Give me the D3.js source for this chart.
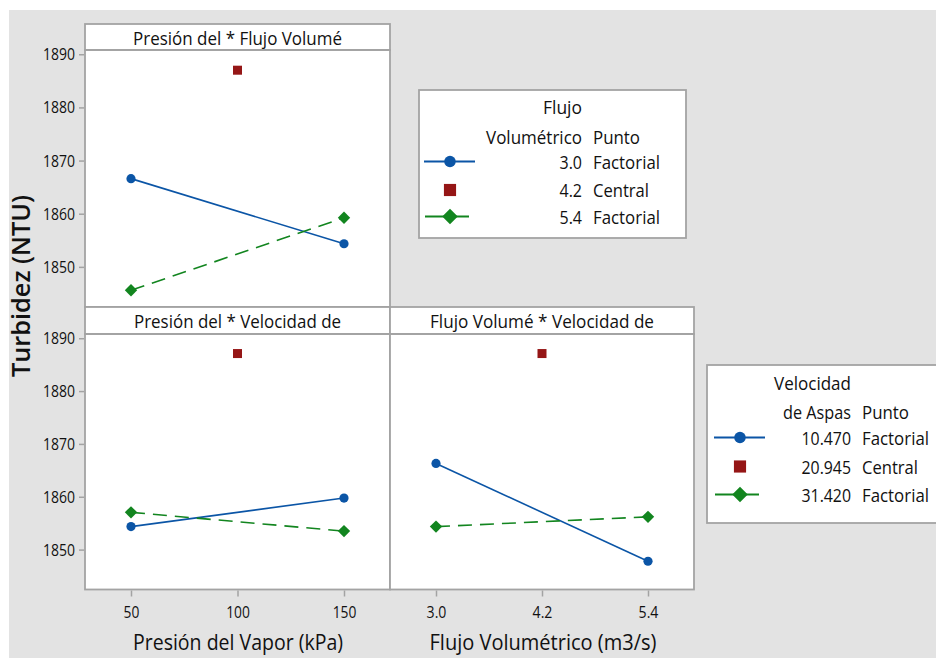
<!DOCTYPE html>
<html>
<head>
<meta charset="utf-8">
<script src="https://cdn.jsdelivr.net/npm/d3@7/dist/d3.min.js"></script>
<style>
  html, body { margin: 0; padding: 0; background: #ffffff; }
  svg { display: block; }
  text { font-family: "Open Sans", "Noto Sans", sans-serif; fill: #111111; }
</style>
</head>
<body>
<svg id="chart" width="936" height="658"></svg>
<script>
// Factor levels and axis ticks
const presionLevels = [50, 100, 150];
const flujoLevels = [3.0, 4.2, 5.4];
const yTicks = [1850, 1860, 1870, 1880, 1890];
const yDomain = [1842.45, 1890.8];

// Interaction means: Presión del Vapor x Flujo Volumétrico
const presFlujoLow = [1866.6, 1854.35];   // Flujo 3.0
const presFlujoHigh = [1845.6, 1859.25];  // Flujo 5.4
const presFlujoCenter = 1887.0;           // Flujo 4.2, punto central

// Presión del Vapor x Velocidad de Aspas
const presVelLow = [1854.35, 1859.75];    // 10.470
const presVelHigh = [1857.05, 1853.5];    // 31.420
const presVelCenter = 1887.1;             // 20.945

// Flujo Volumétrico x Velocidad de Aspas
const flujoVelLow = [1866.3, 1847.8];
const flujoVelHigh = [1854.35, 1856.2];
const flujoVelCenter = 1887.1;

const flujoLegend = [
  { value: "3.0", punto: "Factorial", kind: "low" },
  { value: "4.2", punto: "Central", kind: "center" },
  { value: "5.4", punto: "Factorial", kind: "high" }
];
const velLegend = [
  { value: "10.470", punto: "Factorial", kind: "low" },
  { value: "20.945", punto: "Central", kind: "center" },
  { value: "31.420", punto: "Factorial", kind: "high" }
];

const BLUE = "#0b55a6";
const RED = "#951616";
const GREEN = "#12851f";
const FRAME = "#a3a3a3";
const INK = "#111111";

const svg = d3.select("#chart");

// light gray page area
svg.append("rect").attr("x", 9).attr("y", 10).attr("width", 927).attr("height", 648).attr("fill", "#e3e3e3");

function txt(g, x, y, s, opt) {
  const t = g.append("text").attr("x", x).attr("y", y).text(s)
    .attr("font-size", opt.size || 16)
    .attr("text-anchor", opt.anchor || "start")
    .attr("dominant-baseline", "central");
  if (opt.len) t.attr("textLength", opt.len).attr("lengthAdjust", "spacingAndGlyphs");
  if (opt.weight) t.attr("font-weight", opt.weight);
  return t;
}

// condensed width for numeric labels
function numLen(s, digit, dot) {
  return Array.from(s).reduce((a, c) => a + (c === "." ? dot : digit), 0);
}

function marker(g, kind, x, y, s) {
  if (kind === "low") {
    g.append("circle").attr("cx", x).attr("cy", y).attr("r", 4.6 * s).attr("fill", BLUE);
  } else if (kind === "high") {
    const h = 6.2 * s;
    g.append("path").attr("d", `M${x},${y - h}L${x + h},${y}L${x},${y + h}L${x - h},${y}Z`).attr("fill", GREEN);
  } else {
    const w = 9 * s;
    g.append("rect").attr("x", x - w / 2).attr("y", y - w / 2).attr("width", w).attr("height", w).attr("fill", RED);
  }
}

function panel(cfg) {
  const g = svg.append("g");
  const x = d3.scalePoint().domain(cfg.levels).range([cfg.x0 + 46, cfg.x1 - 46]);
  const y = d3.scaleLinear().domain(yDomain).range([cfg.plotBottom, cfg.plotTop]);

  // plot area and header strip
  g.append("rect").attr("x", cfg.x0).attr("y", cfg.headTop).attr("width", cfg.x1 - cfg.x0)
    .attr("height", cfg.plotBottom - cfg.headTop).attr("fill", "#ffffff");
  g.append("rect").attr("x", cfg.x0).attr("y", cfg.headTop).attr("width", cfg.x1 - cfg.x0)
    .attr("height", cfg.plotTop - cfg.headTop).attr("fill", "#ffffff")
    .attr("stroke", FRAME).attr("stroke-width", 1.8);
  g.append("rect").attr("x", cfg.x0).attr("y", cfg.plotTop).attr("width", cfg.x1 - cfg.x0)
    .attr("height", cfg.plotBottom - cfg.plotTop).attr("fill", "none")
    .attr("stroke", FRAME).attr("stroke-width", 1.8);
  txt(g, (cfg.x0 + cfg.x1) / 2, (cfg.headTop + cfg.plotTop) / 2, cfg.title, { size: 18.5, anchor: "middle", len: cfg.titleLen });

  if (cfg.yAxis) {
    const ay = g.append("g").attr("transform", `translate(${cfg.x0 - 1},0)`)
      .call(d3.axisLeft(y).tickValues(yTicks).tickSize(5).tickPadding(4).tickFormat(d3.format("d")));
    ay.select(".domain").remove();
    ay.selectAll(".tick line").attr("stroke", FRAME).attr("stroke-width", 1.5);
    ay.selectAll(".tick text").attr("font-size", 17).attr("fill", INK)
      .attr("font-family", "'Open Sans', sans-serif")
      .attr("textLength", 32).attr("lengthAdjust", "spacingAndGlyphs");
  }
  if (cfg.xAxis) {
    const ax = g.append("g").attr("transform", `translate(0,${cfg.plotBottom + 1})`)
      .call(d3.axisBottom(x).tickSize(6).tickPadding(9).tickFormat(cfg.fmt));
    ax.select(".domain").remove();
    ax.selectAll(".tick line").attr("stroke", FRAME).attr("stroke-width", 1.5);
    ax.selectAll(".tick text").attr("font-size", 17).attr("fill", INK)
      .attr("font-family", "'Open Sans', sans-serif")
      .attr("textLength", function () { return numLen(this.textContent, 7.9, 4); })
      .attr("lengthAdjust", "spacingAndGlyphs");
  }

  const ends = [cfg.levels[0], cfg.levels[2]];
  const line = d3.line().x((d, i) => x(ends[i])).y(d => y(d));
  g.append("path").datum(cfg.low).attr("d", line).attr("fill", "none")
    .attr("stroke", BLUE).attr("stroke-width", 1.6);
  g.append("path").datum(cfg.high).attr("d", line).attr("fill", "none")
    .attr("stroke", GREEN).attr("stroke-width", 1.6).attr("stroke-dasharray", "14,8");
  cfg.low.forEach((v, i) => marker(g, "low", x(ends[i]), y(v), 1));
  cfg.high.forEach((v, i) => marker(g, "high", x(ends[i]), y(v), 1));
  marker(g, "center", x(cfg.levels[1]), y(cfg.center), 1);
}

panel({ x0: 85, x1: 390, headTop: 24, plotTop: 50, plotBottom: 307, levels: presionLevels,
  title: "Presión del * Flujo Volumé", titleLen: 209, yAxis: true, xAxis: false,
  low: presFlujoLow, high: presFlujoHigh, center: presFlujoCenter });
panel({ x0: 85, x1: 390, headTop: 307, plotTop: 334, plotBottom: 589.5, levels: presionLevels,
  title: "Presión del * Velocidad de", titleLen: 207, yAxis: true, xAxis: true, fmt: d3.format("d"),
  low: presVelLow, high: presVelHigh, center: presVelCenter });
panel({ x0: 390, x1: 694, headTop: 307, plotTop: 334, plotBottom: 589.5, levels: flujoLevels,
  title: "Flujo Volumé * Velocidad de", titleLen: 224, yAxis: false, xAxis: true, fmt: d3.format(".1f"),
  low: flujoVelLow, high: flujoVelHigh, center: flujoVelCenter });

// axis titles
txt(svg, 238, 641, "Presión del Vapor (kPa)", { size: 21.5, anchor: "middle", len: 210 });
txt(svg, 543, 641, "Flujo Volumétrico (m3/s)", { size: 21.5, anchor: "middle", len: 227 });
txt(svg, 0, 0, "Turbidez (NTU)", { size: 25, anchor: "middle", len: 182, weight: 600 })
  .attr("transform", "translate(20,286) rotate(-90)");

// legends
function legend(cfg) {
  const g = svg.append("g");
  const fs = 17.5;
  g.append("rect").attr("x", cfg.x).attr("y", cfg.y).attr("width", cfg.w).attr("height", cfg.h)
    .attr("fill", "#ffffff").attr("stroke", FRAME).attr("stroke-width", 1.8);
  txt(g, cfg.valRight, cfg.head1Y, cfg.head1, { size: fs, anchor: "end", len: cfg.head1Len });
  txt(g, cfg.valRight, cfg.head2Y, cfg.head2, { size: fs, anchor: "end", len: cfg.head2Len });
  txt(g, cfg.valRight + 11, cfg.head2Y, "Punto", { size: fs, len: 47 });
  cfg.items.forEach((d, i) => {
    const yy = cfg.rowY[i];
    if (d.kind === "low") {
      g.append("line").attr("x1", cfg.symX - 26).attr("x2", cfg.symX + 25).attr("y1", yy).attr("y2", yy)
        .attr("stroke", BLUE).attr("stroke-width", 1.8);
    } else if (d.kind === "high") {
      g.append("line").attr("x1", cfg.symX - 25).attr("x2", cfg.symX + 19).attr("y1", yy).attr("y2", yy)
        .attr("stroke", GREEN).attr("stroke-width", 1.8);
    }
    marker(g, d.kind, cfg.symX, yy, d.kind === "center" ? 1.35 : 1.25);
    txt(g, cfg.valRight, yy, d.value, { size: fs, anchor: "end", len: numLen(d.value, 9, 4.5) });
    txt(g, cfg.valRight + 11, yy, d.punto, { size: fs, len: d.punto === "Factorial" ? 67 : 56 });
  });
}

legend({ x: 419, y: 90, w: 267, h: 148, valRight: 582, symX: 450,
  head1: "Flujo", head1Y: 107, head1Len: 39, head2: "Volumétrico", head2Y: 136.5, head2Len: 96,
  rowY: [161.5, 190, 216.5], items: flujoLegend });
legend({ x: 707, y: 365, w: 240, h: 158, valRight: 851, symX: 740,
  head1: "Velocidad", head1Y: 382.5, head1Len: 77, head2: "de Aspas", head2Y: 411.5, head2Len: 68,
  rowY: [437.5, 466.5, 494.5], items: velLegend });
</script>
</body>
</html>
